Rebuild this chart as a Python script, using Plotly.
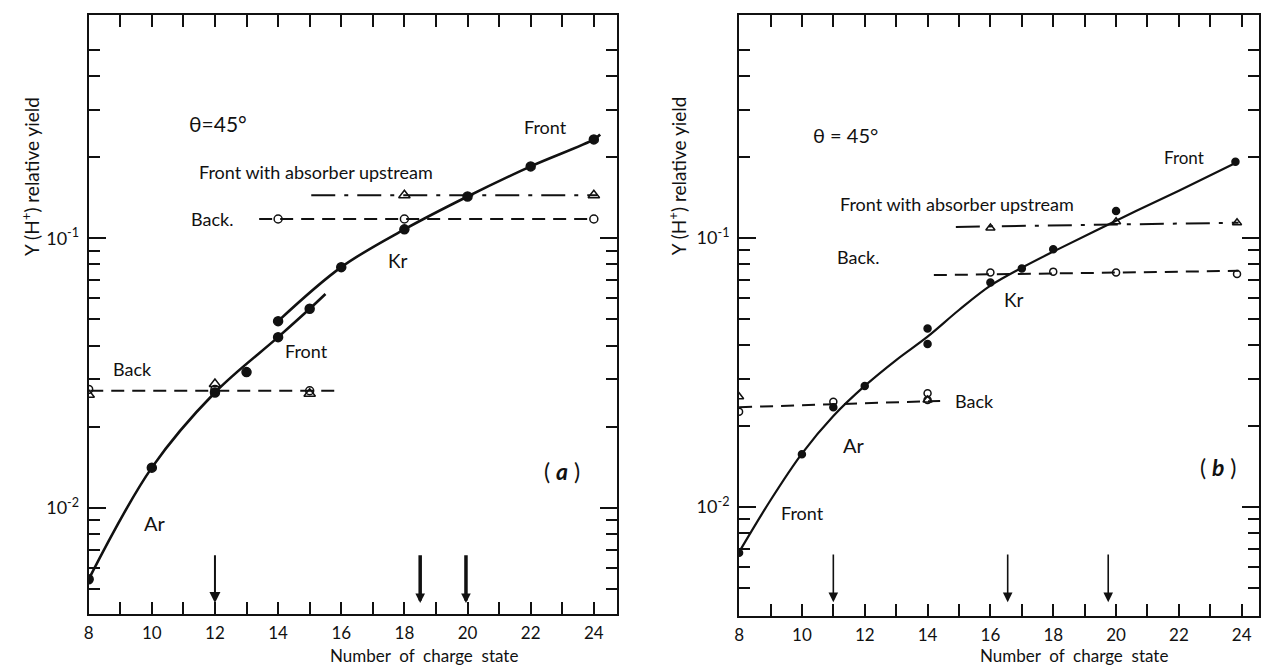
import math
import plotly.graph_objects as go

# ---------------- Panel (a) data ----------------
a_ar_front_x = [8, 10, 12, 14, 15]
a_ar_front_y = [0.00543, 0.0141, 0.0268, 0.043, 0.0548]
a_ar_curve_x = [8, 10, 12, 14, 15, 15.5]
a_ar_curve_y = [0.00543, 0.0141, 0.0268, 0.043, 0.0548, 0.0622]

a_kr_front_x = [13, 14, 16, 18, 20, 22, 24]
a_kr_front_y = [0.0319, 0.0493, 0.0782, 0.108, 0.143, 0.185, 0.233]
a_kr_curve_x = [14, 16, 18, 20, 22, 24, 24.2]
a_kr_curve_y = [0.0493, 0.0782, 0.108, 0.143, 0.185, 0.233, 0.243]

a_kr_back_x = [14, 18, 24]
a_kr_back_y = [0.118, 0.118, 0.118]
a_kr_back_line_x = [13.4, 24.0]
a_kr_back_line_y = [0.118, 0.118]

a_kr_abs_x = [18, 24]
a_kr_abs_y = [0.1445, 0.1445]
a_kr_abs_line_x = [15.05, 24.1]
a_kr_abs_line_y = [0.1445, 0.1445]

a_ar_back_x = [8, 12, 15]
a_ar_back_y = [0.0275, 0.0275, 0.0272]
a_ar_abs_x = [8, 12, 15]
a_ar_abs_y = [0.0263, 0.0288, 0.0265]
a_ar_back_line_x = [8.05, 15.8]
a_ar_back_line_y = [0.0272, 0.0272]

a_arrows_x = [12, 18.5, 19.95]
a_arrows_w = [2, 3.5, 3.5]
a_arrows_size = [1.1, 0.55, 0.55]

# ---------------- Panel (b) data ----------------
b_front_x = [8, 10, 11, 12, 14, 14, 16, 17, 18, 20, 23.8]
b_front_y = [0.00676, 0.0157, 0.0235, 0.0282, 0.0404, 0.0461, 0.0684, 0.0771, 0.0908, 0.126, 0.192]
b_curve_x = [8, 9, 10, 11, 12, 13, 14, 15, 16, 17, 18, 20, 22, 23.8]
b_curve_y = [0.0068, 0.0106, 0.0158, 0.0218, 0.0282, 0.0352, 0.043, 0.054, 0.0665,
             0.0775, 0.089, 0.116, 0.150, 0.19]

b_kr_back_x = [16, 18, 20, 23.85]
b_kr_back_y = [0.0745, 0.075, 0.0745, 0.0735]
b_kr_back_line_x = [14.2, 23.9]
b_kr_back_line_y = [0.0728, 0.0755]

b_kr_abs_x = [16, 20, 23.85]
b_kr_abs_y = [0.109, 0.115, 0.114]
b_kr_abs_line_x = [14.9, 23.9]
b_kr_abs_line_y = [0.110, 0.114]

b_ar_back_x = [8, 11, 14, 14]
b_ar_back_y = [0.0226, 0.0246, 0.0265, 0.025]
b_ar_abs_x = [8, 14]
b_ar_abs_y = [0.0257, 0.025]
b_ar_back_line_x = [8, 14.4]
b_ar_back_line_y = [0.0235, 0.0248]

b_arrows_x = [11.0, 16.55, 19.75]
b_arrows_w = [1.6, 1.6, 1.6]
b_arrows_size = [1.2, 1.2, 1.2]

arrow_tail_y = 0.00675
arrow_head_y = 0.00443

x_tick_vals = [8, 10, 12, 14, 16, 18, 20, 22, 24]
x_tick_text = ["8", "10", "12", "14", "16", "18", "20", "22", "24"]
x_minor_vals = [9, 11, 13, 15, 17, 19, 21, 23]
y_major_vals = [0.01, 0.1]
y_major_text = ["10<sup>-2</sup>", "10<sup>-1</sup>"]
y_minor_vals = [0.005, 0.006, 0.007, 0.008, 0.009, 0.02, 0.03, 0.04, 0.05,
                0.06, 0.07, 0.08, 0.09, 0.2, 0.3, 0.4, 0.5]

FONT = "Lato"
BLACK = "#111111"

fig = go.Figure()


def line(x, y, xa, ya, dash="solid", width=2.2, shape="linear"):
    fig.add_trace(go.Scatter(x=x, y=y, mode="lines", xaxis=xa, yaxis=ya,
                             line=dict(color=BLACK, width=width, dash=dash, shape=shape),
                             showlegend=False, hoverinfo="skip"))


def marks(x, y, xa, ya, symbol, size, lw=1.5):
    fig.add_trace(go.Scatter(x=x, y=y, mode="markers", xaxis=xa, yaxis=ya,
                             marker=dict(symbol=symbol, size=size, color=BLACK,
                                         line=dict(color=BLACK, width=lw)),
                             showlegend=False))


DASH = "13px,8px"
DASHDOT = "24px,9px,4px,9px"

# Panel a
line(a_ar_curve_x, a_ar_curve_y, "x", "y", width=2.6, shape="spline")
line(a_kr_curve_x, a_kr_curve_y, "x", "y", width=2.6, shape="spline")
line(a_kr_back_line_x, a_kr_back_line_y, "x", "y", dash=DASH, width=2)
line(a_kr_abs_line_x, a_kr_abs_line_y, "x", "y", dash=DASHDOT, width=2)
line(a_ar_back_line_x, a_ar_back_line_y, "x", "y", dash=DASH, width=2)
marks(a_ar_front_x, a_ar_front_y, "x", "y", "circle", 9)
marks(a_kr_front_x, a_kr_front_y, "x", "y", "circle", 9)
marks(a_kr_back_x, a_kr_back_y, "x", "y", "circle-open", 8)
marks(a_kr_abs_x, a_kr_abs_y, "x", "y", "triangle-up-open", 10)
marks(a_ar_back_x, a_ar_back_y, "x", "y", "circle-open", 8)
marks(a_ar_abs_x, a_ar_abs_y, "x", "y", "triangle-up-open", 10)

# Panel b
line(b_curve_x, b_curve_y, "x2", "y2", width=2.2, shape="spline")
line(b_kr_back_line_x, b_kr_back_line_y, "x2", "y2", dash=DASH, width=2)
line(b_kr_abs_line_x, b_kr_abs_line_y, "x2", "y2", dash=DASHDOT, width=2)
line(b_ar_back_line_x, b_ar_back_line_y, "x2", "y2", dash=DASH, width=2)
marks(b_front_x, b_front_y, "x2", "y2", "circle", 7)
marks(b_kr_back_x, b_kr_back_y, "x2", "y2", "circle-open", 7)
marks(b_kr_abs_x, b_kr_abs_y, "x2", "y2", "triangle-up-open", 8)
marks(b_ar_back_x, b_ar_back_y, "x2", "y2", "circle-open", 7)
marks(b_ar_abs_x, b_ar_abs_y, "x2", "y2", "triangle-up-open", 8)

L = math.log10
ann = []


def text(x, y, s, xr, yr, size=18, xanchor="center"):
    ann.append(dict(x=x, y=L(y), xref=xr, yref=yr, text=s, showarrow=False,
                    xanchor=xanchor, yanchor="middle",
                    font=dict(family=FONT, size=size, color=BLACK)))


def arrow(x, xr, yr, w, s):
    ann.append(dict(x=x, y=L(arrow_head_y), ax=x, ay=L(arrow_tail_y), xref=xr, yref=yr,
                    axref=xr, ayref=yr, showarrow=True, arrowhead=2, arrowsize=s,
                    arrowwidth=w, arrowcolor=BLACK, text=""))


# Panel a texts
text(12.1, 0.267, "θ=45°", "x", "y", size=21)
text(22.46, 0.26, "Front", "x", "y", size=18)
text(15.2, 0.176, "Front with absorber upstream", "x", "y", size=18)
text(11.9, 0.118, "Back.", "x", "y", size=18)
text(17.8, 0.0828, "Kr", "x", "y", size=19)
text(14.9, 0.0381, "Front", "x", "y", size=18)
text(9.4, 0.0327, "Back", "x", "y", size=18)
text(10.1, 0.00882, "Ar", "x", "y", size=20)
text(23.0, 0.01374, "( <b><i>a</i></b> )", "x", "y", size=23)
for xv, w, s in zip(a_arrows_x, a_arrows_w, a_arrows_size):
    arrow(xv, "x", "y", w, s)

# Panel b texts
text(11.38, 0.241, "θ = 45°", "x2", "y2", size=20)
text(22.15, 0.200, "Front", "x2", "y2", size=17)
text(14.94, 0.134, "Front with absorber upstream", "x2", "y2", size=18)
text(11.8, 0.0853, "Back.", "x2", "y2", size=18)
text(16.75, 0.0589, "Kr", "x2", "y2", size=19)
text(15.48, 0.0248, "Back", "x2", "y2", size=18)
text(11.67, 0.0170, "Ar", "x2", "y2", size=20)
text(10.02, 0.00947, "Front", "x2", "y2", size=18)
text(23.24, 0.0141, "( <b><i>b</i></b> )", "x2", "y2", size=23)
for xv, w, s in zip(b_arrows_x, b_arrows_w, b_arrows_size):
    arrow(xv, "x2", "y2", w, s)

# Axis titles as paper annotations
W, H = 1262, 667
for xc, yc in [(25, 176), (675, 176)]:
    ann.append(dict(x=xc / W, y=1 - yc / H, xref="paper", yref="paper",
                    text="Y (H<sup>+</sup>) relative yield", textangle=-90,
                    showarrow=False, xanchor="center", yanchor="middle",
                    font=dict(family=FONT, size=19, color=BLACK)))
for xc, yb in [(421, 667), (1073, 667)]:
    ann.append(dict(x=xc / W, y=1 - yb / H, xref="paper", yref="paper",
                    text="Number  of  charge  state", showarrow=False,
                    xanchor="center", yanchor="bottom", borderpad=0,
                    font=dict(family=FONT, size=17, color=BLACK)))

xcommon = dict(type="linear", tickmode="array", tickvals=x_tick_vals, ticktext=x_tick_text,
               ticks="inside", ticklen=12, tickwidth=2, tickcolor=BLACK,
               minor=dict(tickmode="array", tickvals=x_minor_vals, ticks="inside",
                          ticklen=12, tickwidth=2, tickcolor=BLACK),
               showline=True, linewidth=2, linecolor=BLACK, mirror="ticks",
               showgrid=False, zeroline=False, ticklabelstandoff=3,
               ticklabeloverflow="allow",
               tickfont=dict(family=FONT, size=17, color=BLACK))
ycommon = dict(type="log", tickmode="array", tickvals=y_major_vals, ticktext=y_major_text,
               ticks="inside", ticklen=17, tickwidth=2, tickcolor=BLACK,
               minor=dict(tickmode="array", tickvals=y_minor_vals, ticks="inside",
                          ticklen=11, tickwidth=2, tickcolor=BLACK),
               showline=True, linewidth=2, linecolor=BLACK, mirror="ticks",
               showgrid=False, zeroline=False, ticklabelstandoff=4,
               tickfont=dict(family=FONT, size=18, color=BLACK))

fig.update_layout(
    width=W, height=H,
    margin=dict(l=0, r=0, t=0, b=0),
    paper_bgcolor="white", plot_bgcolor="white",
    showlegend=False,
    xaxis=dict(**xcommon, domain=[84 / W, 614 / W], range=[8, 24.72], anchor="y"),
    yaxis=dict(**ycommon, domain=[1 - 614 / H, 1 - 15 / H], range=[-2.394, -0.171], anchor="x"),
    xaxis2=dict(**xcommon, domain=[737 / W, 1259 / W], range=[8, 24.55], anchor="y2"),
    yaxis2=dict(**ycommon, domain=[1 - 616 / H, 1 - 15 / H], range=[-2.405, -0.171], anchor="x2"),
    annotations=ann,
    font=dict(family=FONT, color=BLACK),
)

fig.write_html(
    "out.html",
    config={"displayModeBar": False},
    post_script="document.body.style.margin='0px';document.body.style.overflow='hidden';",
)
